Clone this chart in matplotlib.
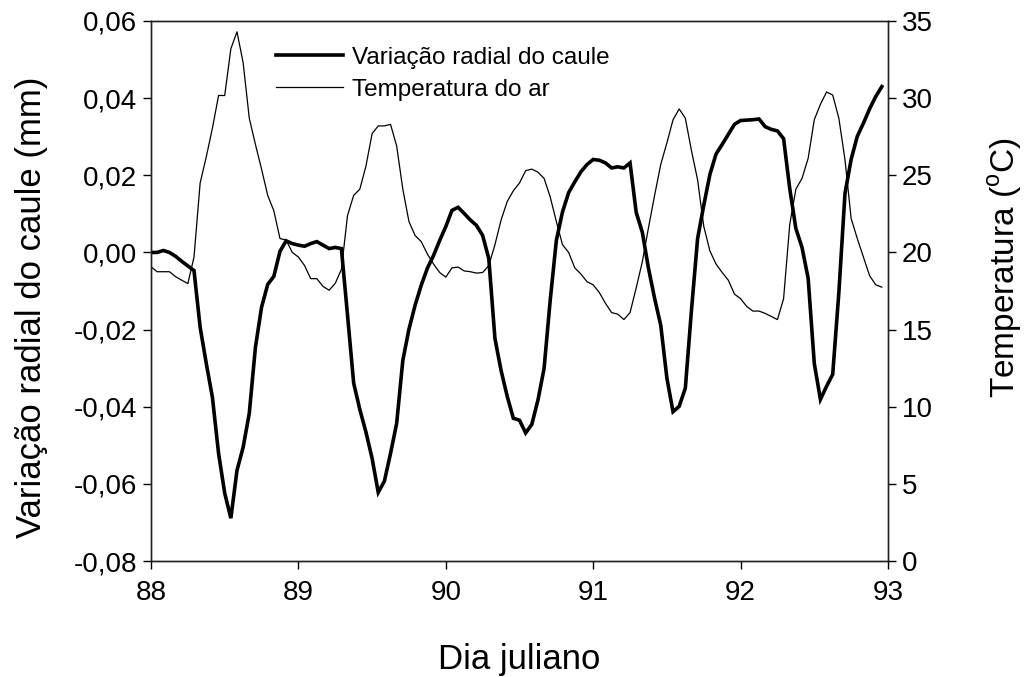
import numpy as np
import matplotlib
matplotlib.use("Agg")
import matplotlib.pyplot as plt
from matplotlib.ticker import FuncFormatter

plt.rcParams['font.family'] = ['Liberation Sans', 'DejaVu Sans']
plt.rcParams['mathtext.fontset'] = 'custom'
plt.rcParams['mathtext.rm'] = 'Liberation Sans'

# Hourly readings from day 88.00 onward
start_day = 88.0
hours_per_day = 24

stem_mm = [
    0.0000, 0.0000, 0.0005, 0.0000, -0.0010, -0.0023, -0.0035, -0.0047,
    -0.0194, -0.0288, -0.0376, -0.0521, -0.0624, -0.0689, -0.0565, -0.0505,
    -0.0417, -0.0246, -0.0142, -0.0083, -0.0062, 0.0003, 0.0030, 0.0023,
    0.0019, 0.0016, 0.0023, 0.0028, 0.0019, 0.0010, 0.0013, 0.0010,
    -0.0163, -0.0339, -0.0407, -0.0466, -0.0534, -0.0622, -0.0593, -0.0521,
    -0.0443, -0.0280, -0.0199, -0.0137, -0.0085, -0.0041, -0.0008, 0.0031,
    0.0067, 0.0109, 0.0117, 0.0101, 0.0084, 0.0070, 0.0044, -0.0016,
    -0.0223, -0.0306, -0.0373, -0.0430, -0.0435, -0.0468, -0.0446, -0.0383,
    -0.0301, -0.0124, 0.0031, 0.0105, 0.0155, 0.0183, 0.0209, 0.0228,
    0.0241, 0.0239, 0.0232, 0.0219, 0.0222, 0.0219, 0.0232, 0.0104,
    0.0052, -0.0041, -0.0119, -0.0189, -0.0326, -0.0413, -0.0399, -0.0352,
    -0.0150, 0.0036, 0.0122, 0.0202, 0.0255, 0.0280, 0.0306, 0.0332,
    0.0342, 0.0343, 0.0344, 0.0346, 0.0326, 0.0319, 0.0315, 0.0295,
    0.0166, 0.0062, 0.0013, -0.0067, -0.0288, -0.0381, -0.0347, -0.0316,
    -0.0104, 0.0153, 0.0241, 0.0301, 0.0335, 0.0372, 0.0404, 0.0430,
]

air_temp = [
    19.07, 18.75, 18.75, 18.75, 18.43, 18.20, 17.98, 19.70,
    24.50, 26.20, 28.06, 30.17, 30.17, 33.20, 34.30, 32.30,
    28.70, 27.00, 25.40, 23.70, 22.70, 20.90, 20.80, 20.00,
    19.70, 19.15, 18.30, 18.30, 17.80, 17.55, 18.00, 18.90,
    22.40, 23.70, 24.10, 25.60, 27.70, 28.20, 28.20, 28.30,
    26.90, 24.10, 22.00, 21.10, 20.70, 19.90, 19.25, 18.70,
    18.40, 19.00, 19.05, 18.80, 18.75, 18.66, 18.70, 19.15,
    20.50, 22.10, 23.30, 24.00, 24.50, 25.30, 25.40, 25.20,
    24.80, 23.60, 22.00, 20.50, 20.00, 19.00, 18.60, 18.10,
    17.90, 17.40, 16.70, 16.10, 16.00, 15.65, 16.10, 17.70,
    19.40, 21.60, 23.70, 25.70, 27.10, 28.60, 29.30, 28.70,
    26.60, 24.70, 21.70, 20.10, 19.25, 18.70, 18.20, 17.30,
    17.00, 16.50, 16.20, 16.20, 16.05, 15.85, 15.65, 17.00,
    21.80, 24.10, 24.80, 26.10, 28.60, 29.60, 30.40, 30.20,
    28.70, 26.00, 22.20, 20.90, 19.70, 18.50, 17.90, 17.75,
]

x_ticks = [88, 89, 90, 91, 92, 93]
left_ticks = [-0.08, -0.06, -0.04, -0.02, 0.00, 0.02, 0.04, 0.06]
right_ticks = [0, 5, 10, 15, 20, 25, 30, 35]

days = start_day + np.arange(len(stem_mm)) / hours_per_day

fig = plt.figure(figsize=(10.28, 6.77), dpi=100)
ax = fig.add_axes([0.1469, 0.1713, 0.7169, 0.7977])
ax2 = ax.twinx()

l1, = ax.plot(days, stem_mm, color='black', lw=2.6, solid_joinstyle='miter',
              label='Variação radial do caule', zorder=3)
l2, = ax2.plot(days, air_temp, color='black', lw=0.9,
               label='Temperatura do ar', zorder=2)

ax.set_xlim(88, 93)
ax.set_ylim(-0.08, 0.06)
ax2.set_ylim(0, 35)
ax.set_xticks(x_ticks)
ax.set_yticks(left_ticks)
ax2.set_yticks(right_ticks)
ax.yaxis.set_major_formatter(FuncFormatter(
    lambda v, p: f"{v:.2f}".replace('.', ',').replace('-0,00', '0,00')))

for a in (ax, ax2):
    a.tick_params(direction='out', length=6, width=1, labelsize=20, colors='black')
    for s in a.spines.values():
        s.set_linewidth(1.0)
        s.set_color('#222222')
ax.tick_params(axis='x', pad=8)
ax.tick_params(axis='y', pad=4)
ax2.tick_params(axis='y', pad=4)

ax.set_xlabel('Dia juliano', fontsize=25, labelpad=26)
ax.set_ylabel('Variação radial do caule (mm)', fontsize=25)
ax2.set_ylabel(r'Temperatura ($^{\rm o}$C)', fontsize=24)
ax.yaxis.set_label_coords(-0.14, 0.47)
ax2.yaxis.set_label_coords(1.133, 0.544)

ax.legend(handles=[l1, l2], loc='upper left', bbox_to_anchor=(0.156, 0.97),
          frameon=False, fontsize=17.5, handlelength=2.76, handletextpad=0.37,
          labelspacing=0.4, borderaxespad=0)

fig.savefig('out.png', dpi=100)
